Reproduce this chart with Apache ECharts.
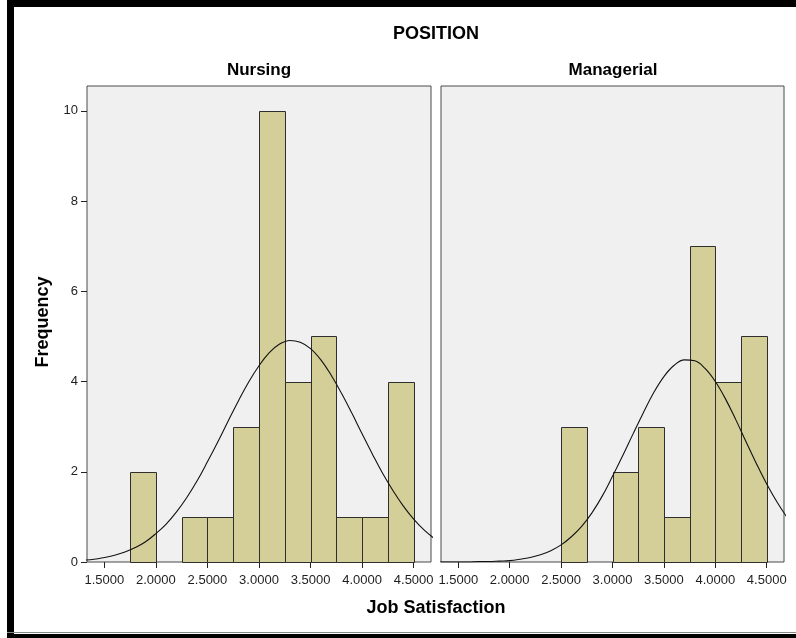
<!DOCTYPE html>
<html>
<head>
<meta charset="utf-8">
<title>Job Satisfaction by Position</title>
<script src="https://cdn.jsdelivr.net/npm/echarts@6/dist/echarts.min.js"></script>
<style>
  html, body { margin: 0; padding: 0; background: #ffffff; }
  #chart { width: 796px; height: 638px; }
</style>
</head>
<body>
<div id="chart"></div>
<script>
// Histogram bins (bin start, width 0.25) and frequencies per position
const binWidth = 0.25;
const nursingBinStarts = [1.75, 2.25, 2.5, 2.75, 3.0, 3.25, 3.5, 3.75, 4.0, 4.25];
const nursingCounts    = [2, 1, 1, 3, 10, 4, 5, 1, 1, 4];
const managerialBinStarts = [2.5, 3.0, 3.25, 3.5, 3.75, 4.0, 4.25];
const managerialCounts    = [3, 2, 3, 1, 7, 4, 5];

// Normal curve overlays, sampled along the Job Satisfaction axis
const curveX = [1.3, 1.4, 1.5, 1.6, 1.7, 1.8, 1.9, 2.0, 2.1, 2.2, 2.3, 2.4, 2.5, 2.6, 2.7, 2.8, 2.9,
                3.0, 3.1, 3.2, 3.3, 3.4, 3.5, 3.6, 3.7, 3.8, 3.9, 4.0, 4.1, 4.2, 4.3, 4.4, 4.5, 4.6, 4.7];
const nursingCurve = [0.04, 0.06, 0.10, 0.15, 0.22, 0.32, 0.45, 0.63, 0.84, 1.11, 1.43, 1.80, 2.22, 2.66, 3.12, 3.57, 3.99,
                      4.35, 4.64, 4.83, 4.91, 4.87, 4.73, 4.48, 4.14, 3.74, 3.30, 2.84, 2.39, 1.96, 1.58, 1.24, 0.95, 0.71, 0.52];
const managerialCurve = [0.00, 0.00, 0.00, 0.00, 0.01, 0.01, 0.02, 0.03, 0.06, 0.10, 0.16, 0.25, 0.38, 0.56, 0.79, 1.09, 1.46,
                         1.90, 2.36, 2.84, 3.31, 3.75, 4.11, 4.36, 4.48, 4.46, 4.29, 4.00, 3.61, 3.15, 2.66, 2.18, 1.73, 1.33, 0.98];

// Axis tick values
const xTicks = [1.5, 2.0, 2.5, 3.0, 3.5, 4.0, 4.5];
const yTicks = [0, 2, 4, 6, 8, 10];

const FONT = '"Liberation Sans", Arial, Helvetica, sans-serif';
const BAR_FILL = '#d4cf98';
const BAR_EDGE = '#2e2e2e';

function binData(starts, counts) {
  return starts.map((s, i) => [s, s + binWidth, counts[i]]);
}
function curveData(ys) {
  return curveX.map((x, i) => [x, ys[i]]);
}

function renderBin(params, api) {
  const topLeft = api.coord([api.value(0), api.value(2)]);
  const bottomRight = api.coord([api.value(1), 0]);
  return {
    type: 'rect',
    shape: {
      x: Math.round(topLeft[0]) + 0.5,
      y: Math.round(topLeft[1]) + 0.5,
      width: Math.round(bottomRight[0]) - Math.round(topLeft[0]),
      height: Math.round(bottomRight[1]) - Math.round(topLeft[1])
    },
    style: { fill: BAR_FILL, stroke: BAR_EDGE, lineWidth: 1 }
  };
}

function xAxisFor(gridIndex) {
  return {
    type: 'value', gridIndex: gridIndex,
    min: 1.332, max: 4.668,
    axisLine: { show: false },
    splitLine: { show: false },
    axisTick: { show: true, length: 6, customValues: xTicks, lineStyle: { color: '#222', width: 1 } },
    axisLabel: {
      customValues: xTicks, margin: 12,
      color: '#1e1e1e', fontFamily: FONT, fontSize: 13,
      formatter: v => v.toFixed(4)
    }
  };
}

function yAxisFor(gridIndex, withLabels) {
  return {
    type: 'value', gridIndex: gridIndex,
    min: 0, max: 10.55,
    axisLine: { show: false },
    splitLine: { show: false },
    axisTick: { show: withLabels, length: 6, customValues: yTicks, lineStyle: { color: '#222', width: 1 } },
    axisLabel: {
      show: withLabels, customValues: yTicks, margin: 9,
      color: '#1e1e1e', fontFamily: FONT, fontSize: 13
    }
  };
}

const chart = echarts.init(document.getElementById('chart'), null, { renderer: 'canvas' });

chart.setOption({
  backgroundColor: '#ffffff',
  animation: false,
  grid: [
    { left: 87, top: 86, width: 344, height: 476, show: true, backgroundColor: '#f0f0f0', borderColor: '#4a4a4a', borderWidth: 1 },
    { left: 441, top: 86, width: 343, height: 476, show: true, backgroundColor: '#f0f0f0', borderColor: '#4a4a4a', borderWidth: 1 }
  ],
  xAxis: [xAxisFor(0), xAxisFor(1)],
  yAxis: [yAxisFor(0, true), yAxisFor(1, false)],
  series: [
    { type: 'custom', name: 'Nursing', xAxisIndex: 0, yAxisIndex: 0, renderItem: renderBin,
      data: binData(nursingBinStarts, nursingCounts), z: 2 },
    { type: 'custom', name: 'Managerial', xAxisIndex: 1, yAxisIndex: 1, renderItem: renderBin,
      data: binData(managerialBinStarts, managerialCounts), z: 2 },
    { type: 'line', xAxisIndex: 0, yAxisIndex: 0, data: curveData(nursingCurve), smooth: 0.4,
      showSymbol: false, clip: true, lineStyle: { color: '#111', width: 1.1 }, z: 3 },
    { type: 'line', xAxisIndex: 1, yAxisIndex: 1, data: curveData(managerialCurve), smooth: 0.4,
      showSymbol: false, clip: true, lineStyle: { color: '#111', width: 1.1 }, z: 3 }
  ],
  graphic: [
    // page frame
    { type: 'rect', shape: { x: 7, y: 0, width: 789, height: 7 }, style: { fill: '#000' } },
    { type: 'rect', shape: { x: 7, y: 0, width: 7, height: 638 }, style: { fill: '#000' } },
    { type: 'rect', shape: { x: 7, y: 632, width: 789, height: 1 }, style: { fill: '#888' } },
    { type: 'rect', shape: { x: 7, y: 634, width: 789, height: 4 }, style: { fill: '#000' } },
    // titles
    { type: 'text', x: 436, y: 34, style: { text: 'POSITION', font: 'bold 18px ' + FONT, fill: '#000', textAlign: 'center', textVerticalAlign: 'middle' } },
    { type: 'text', x: 259, y: 70, style: { text: 'Nursing', font: 'bold 17px ' + FONT, fill: '#000', textAlign: 'center', textVerticalAlign: 'middle' } },
    { type: 'text', x: 613, y: 70, style: { text: 'Managerial', font: 'bold 17px ' + FONT, fill: '#000', textAlign: 'center', textVerticalAlign: 'middle' } },
    { type: 'text', x: 436, y: 608, style: { text: 'Job Satisfaction', font: 'bold 18px ' + FONT, fill: '#000', textAlign: 'center', textVerticalAlign: 'middle' } },
    { type: 'text', x: 43, y: 322, rotation: Math.PI / 2, style: { text: 'Frequency', font: 'bold 18px ' + FONT, fill: '#000', textAlign: 'center', textVerticalAlign: 'middle' } }
  ]
});
</script>
</body>
</html>
